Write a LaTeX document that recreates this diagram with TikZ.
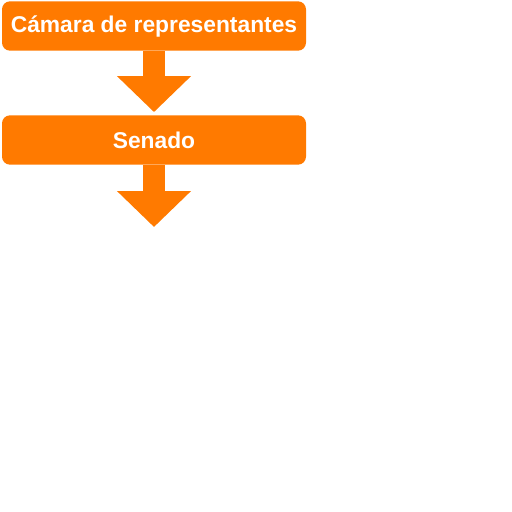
\documentclass[tikz,border=0pt]{standalone}
\usepackage{fontspec}
\setmainfont{Liberation Sans}
\usetikzlibrary{arrows.meta}
\definecolor{naranja}{RGB}{255,122,0}

\begin{document}
\begin{tikzpicture}[x=0.75pt,y=-0.75pt]

      \useasboundingbox (0,0) rectangle (512,512);

      \begin{scope}[every node/.style={rectangle,rounded corners=6pt,fill=naranja,text=white,
          font=\fontsize{17.1}{20}\selectfont\bfseries,minimum width=228pt,minimum height=37pt,inner sep=0pt}]
        \node (camara) at (154,26) {Cámara de representantes};
        \node (senado) at (154,140) {Senado};
      \end{scope}

      \coordinate (fin) at (154,227);

      \begin{scope}[every edge/.style={draw,naranja,line width=16.5pt,
          -{Triangle[width=54pt,length=27pt]}}]
        \path (camara) edge[shorten >=2.25pt] (senado);
        \path (senado) edge (fin);
      \end{scope}

    \end{tikzpicture}
\end{document}
